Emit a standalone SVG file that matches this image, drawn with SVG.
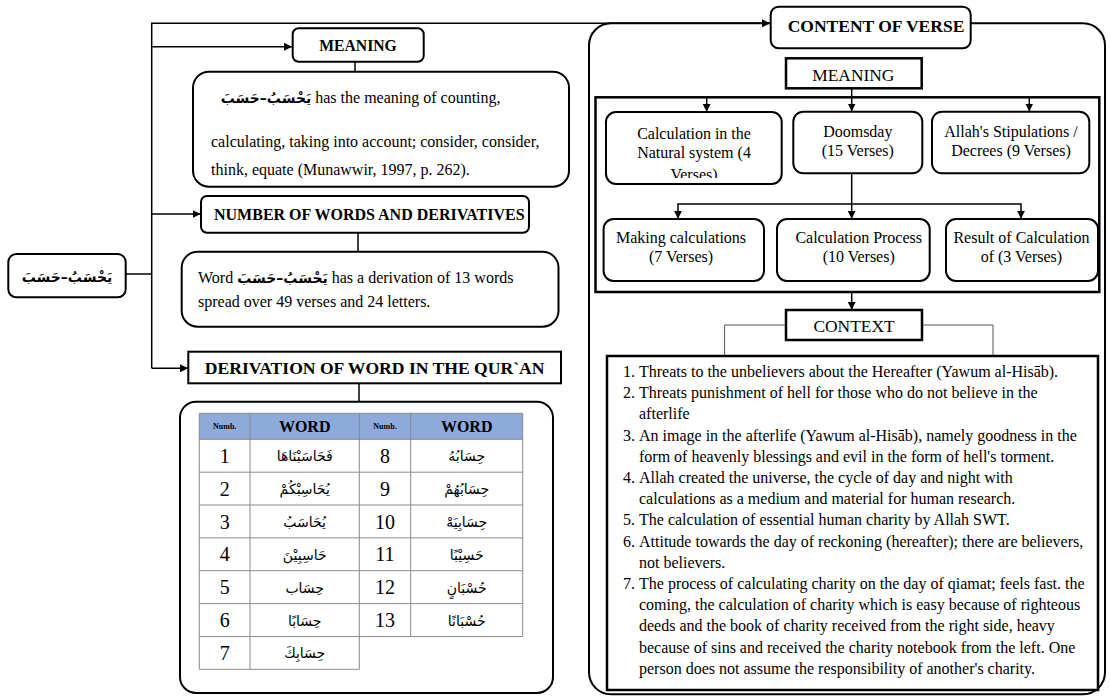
<svg xmlns="http://www.w3.org/2000/svg" width="1110" height="697" viewBox="0 0 1110 697">
<defs>
<marker id="ah" markerUnits="userSpaceOnUse" markerWidth="9" markerHeight="8" refX="8" refY="4" orient="auto">
<path d="M0,0 L8,4 L0,8 z" fill="#000"/>
</marker>
<clipPath id="clip1"><rect x="606" y="112" width="176" height="66"/></clipPath>
<style>
text{font-family:'Liberation Serif','DejaVu Sans',serif;fill:#000}
.box{fill:#fff;stroke:#000;stroke-width:2}
.thick{fill:#fff;stroke:#000;stroke-width:2.5}
.con{fill:none;stroke:#000;stroke-width:1.5}
.thin{fill:none;stroke:#555;stroke-width:1}
.grid{fill:none;stroke:#8a8a8a;stroke-width:1}
.hb{font-weight:bold}
.mid{text-anchor:middle}
.t16{font-size:16px}
.t17{font-size:17.4px}
.ar{font-family:'DejaVu Sans','Noto Sans',sans-serif}
.num{font-size:20px;text-anchor:middle}
.aw{font-family:'DejaVu Sans','Noto Sans',sans-serif;font-size:14px;text-anchor:middle}
</style>
</defs>
<rect width="1110" height="697" fill="#fff"/>

<g id="content-frame">
<rect x="589" y="23.3" width="516" height="671" rx="22" fill="none" stroke="#000" stroke-width="2"/>
</g>

<g id="connectors">
<path class="con" d="M125.7,274 H151.7"/>
<path class="con" d="M151.7,368.3 V23.3 H770" marker-end="url(#ah)"/>
<path class="con" d="M151.7,46.7 H292" marker-end="url(#ah)"/>
<path class="con" d="M151.7,214 H200.5" marker-end="url(#ah)"/>
<path class="con" d="M151.7,368.3 H188" marker-end="url(#ah)"/>
<path class="con" d="M355,61.7 V71.7"/>
<path class="con" d="M358,232.7 V251.7"/>
<path class="con" d="M359,383.3 V401.7"/>
<path class="con" d="M851.7,88.3 V111.5" marker-end="url(#ah)"/>
<path class="con" d="M706.7,97.3 V111.8" marker-end="url(#ah)"/>
<path class="con" d="M1029.3,97.3 V111.5" marker-end="url(#ah)"/>
<path class="con" d="M851.7,173.3 V218.8" marker-end="url(#ah)"/>
<path class="con" d="M851.7,204 H678 V218.8" marker-end="url(#ah)"/>
<path class="con" d="M851.7,204 H1021 V218.8" marker-end="url(#ah)"/>
<path class="con" d="M851.7,292 V309.8" marker-end="url(#ah)"/>
<path class="thin" d="M786,325 H724.6 V356"/>
<path class="thin" d="M922,325 H993 V356"/>
</g>

<g id="root">
<rect class="box" x="8.3" y="254" width="117.4" height="43.3" rx="8"/>
<text class="ar hb mid" x="67" y="282" font-size="14" direction="rtl" unicode-bidi="embed">يَحْسَبُ–حَسَبَ</text>
</g>

<g id="meaning-label">
<rect class="box" x="292.7" y="28.3" width="131" height="33.4" rx="6"/>
<text class="hb mid" x="358" y="51" font-size="15.7">MEANING</text>
</g>

<g id="meaning-text">
<rect class="box" x="193" y="71.7" width="376" height="115" rx="16"/>
<text class="t16" x="220.7" y="103"><tspan class="ar" font-weight="bold" font-size="14">يَحْسَبُ–حَسَبَ</tspan> has the meaning of counting,</text>
<text class="t16" x="211" y="147">calculating, taking into account; consider, consider,</text>
<text class="t16" x="211" y="175">think, equate (Munawwir, 1997, p. 262).</text>
</g>

<g id="number-label">
<rect class="box" x="201" y="196" width="328" height="36.7" rx="6"/>
<text class="hb" x="214" y="219.5" font-size="16">NUMBER OF WORDS AND DERIVATIVES</text>
</g>

<g id="number-text">
<rect class="box" x="181.7" y="251.7" width="376.8" height="75" rx="16"/>
<text class="t16" x="198" y="282.7">Word <tspan class="ar" font-weight="bold" font-size="14">يَحْسَبُ–حَسَبَ</tspan> has a derivation of 13 words</text>
<text class="t16" x="198" y="307.3">spread over 49 verses and 24 letters.</text>
</g>

<g id="derivation-label">
<rect class="box" x="188.3" y="351.7" width="372.7" height="31.6"/>
<text class="hb mid" x="374.6" y="374" font-size="17.6">DERIVATION OF WORD IN THE QUR`AN</text>
</g>

<g id="derivation-table">
<rect class="box" x="180" y="401.7" width="373" height="291.3" rx="16"/>
<rect x="199.3" y="413.3" width="323.4" height="26" fill="#8eaadb"/>
<path class="grid" d="M199.3,413.3 V669.3 M250,413.3 V669.3 M359.3,413.3 V669.3 M410.7,413.3 V636.5 M522.7,413.3 V636.5
M199.3,413.3 H522.7 M199.3,439.3 H522.7 M199.3,472.2 H522.7 M199.3,505 H522.7 M199.3,537.9 H522.7 M199.3,570.7 H522.7 M199.3,603.6 H522.7 M199.3,636.5 H522.7 M199.3,669.3 H359.3"/>
<text class="hb mid" x="224.7" y="429" font-size="8">Numb.</text>
<text class="hb mid" x="304.7" y="432" font-size="16">WORD</text>
<text class="hb mid" x="385" y="429" font-size="8">Numb.</text>
<text class="hb mid" x="466.7" y="432" font-size="16">WORD</text>
<text class="num" x="224.7" y="462.7">1</text>
<text class="num" x="224.7" y="495.6">2</text>
<text class="num" x="224.7" y="528.5">3</text>
<text class="num" x="224.7" y="561.3">4</text>
<text class="num" x="224.7" y="594.2">5</text>
<text class="num" x="224.7" y="627">6</text>
<text class="num" x="224.7" y="659.9">7</text>
<text class="num" x="385" y="462.7">8</text>
<text class="num" x="385" y="495.6">9</text>
<text class="num" x="385" y="528.5">10</text>
<text class="num" x="385" y="561.3">11</text>
<text class="num" x="385" y="594.2">12</text>
<text class="num" x="385" y="627">13</text>
<text class="aw" x="304.7" y="461">فَحَاسَبْنَاهَا</text>
<text class="aw" x="304.7" y="494">يُحَاسِبْكُمْ</text>
<text class="aw" x="304.7" y="527">يُحَاسَبُ</text>
<text class="aw" x="304.7" y="560">حَاسِبِيْنَ</text>
<text class="aw" x="304.7" y="592.5">حِسَاب</text>
<text class="aw" x="304.7" y="625.5">حِسَابًا</text>
<text class="aw" x="304.7" y="658">حِسَابِكَ</text>
<text class="aw" x="466.7" y="461">حِسَابُهُ</text>
<text class="aw" x="466.7" y="494">حِسَابُهُمْ</text>
<text class="aw" x="466.7" y="527">حِسَابِيَهْ</text>
<text class="aw" x="466.7" y="560">حَسِيْبًا</text>
<text class="aw" x="466.7" y="592.5">حُسْبَانٍ</text>
<text class="aw" x="466.7" y="625.5">حُسْبَانًا</text>
</g>

<g id="content-of-verse">
<rect class="box" x="770.7" y="6.7" width="200" height="41.6" rx="8"/>
<text class="hb mid" x="876" y="31.7" font-size="17.5">CONTENT OF VERSE</text>
</g>

<g id="meaning-inner">
<rect class="thick" x="786" y="58.3" width="135.7" height="30"/>
<text class="mid t17" x="853.3" y="81">MEANING</text>
</g>

<g id="meaning-frame">
<rect x="595.5" y="97.3" width="503.8" height="194.7" fill="none" stroke="#000" stroke-width="2.5"/>
</g>

<g id="natural-system">
<rect class="box" x="606" y="112" width="175.7" height="72" rx="10"/>
<g clip-path="url(#clip1)">
<text class="mid t16" x="694" y="138.5">Calculation in the</text>
<text class="mid t16" x="694" y="157.5">Natural system (4</text>
<text class="mid t16" x="694" y="180">Verses)</text>
</g>
</g>

<g id="doomsday">
<rect class="box" x="793.3" y="111.7" width="129" height="61.6" rx="10"/>
<text class="mid t16" x="857.8" y="136.7">Doomsday</text>
<text class="mid t16" x="857.8" y="155.5">(15 Verses)</text>
</g>

<g id="stipulations">
<rect class="box" x="932" y="111.7" width="157.3" height="61.6" rx="10"/>
<text class="mid t16" x="1011" y="136.7">Allah's Stipulations /</text>
<text class="mid t16" x="1011" y="155.5">Decrees (9 Verses)</text>
</g>

<g id="making-calculations">
<rect class="box" x="603.6" y="219" width="160.4" height="62" rx="10"/>
<text class="mid t16" x="681" y="243">Making calculations</text>
<text class="mid t16" x="681" y="262">(7 Verses)</text>
</g>

<g id="calculation-process">
<rect class="box" x="777" y="219" width="152.7" height="62" rx="10"/>
<text class="mid t16" x="858.7" y="243">Calculation Process</text>
<text class="mid t16" x="858.7" y="262">(10 Verses)</text>
</g>

<g id="result-of-calculation">
<rect class="box" x="946" y="219" width="152" height="62" rx="10"/>
<text class="mid t16" x="1021.4" y="243">Result of Calculation</text>
<text class="mid t16" x="1021.4" y="262">of (3 Verses)</text>
</g>

<g id="context">
<rect class="thick" x="786" y="310" width="136" height="30"/>
<text class="mid t17" x="854" y="332">CONTEXT</text>
</g>

<g id="context-list">
<rect class="thick" x="607" y="356" width="491" height="334"/>
<g class="t16">
<text x="623" y="377">1.</text><text x="639" y="377">Threats to the unbelievers about the Hereafter (Yawum al-Hisāb).</text>
<text x="623" y="398.2">2.</text><text x="639" y="398.2">Threats punishment of hell for those who do not believe in the</text>
<text x="639" y="419.4">afterlife</text>
<text x="623" y="440.6">3.</text><text x="639" y="440.6">An image in the afterlife (Yawum al-Hisāb), namely goodness in the</text>
<text x="639" y="461.8">form of heavenly blessings and evil in the form of hell's torment.</text>
<text x="623" y="483">4.</text><text x="639" y="483">Allah created the universe, the cycle of day and night with</text>
<text x="639" y="504.2">calculations as a medium and material for human research.</text>
<text x="623" y="525.4">5.</text><text x="639" y="525.4">The calculation of essential human charity by Allah SWT.</text>
<text x="623" y="546.6">6.</text><text x="639" y="546.6">Attitude towards the day of reckoning (hereafter); there are believers,</text>
<text x="639" y="567.8">not believers.</text>
<text x="623" y="589">7.</text><text x="639" y="589">The process of calculating charity on the day of qiamat; feels fast. the</text>
<text x="639" y="610.2">coming, the calculation of charity which is easy because of righteous</text>
<text x="639" y="631.4">deeds and the book of charity received from the right side, heavy</text>
<text x="639" y="652.6">because of sins and received the charity notebook from the left. One</text>
<text x="639" y="673.8">person does not assume the responsibility of another's charity.</text>
</g>
</g>
</svg>
